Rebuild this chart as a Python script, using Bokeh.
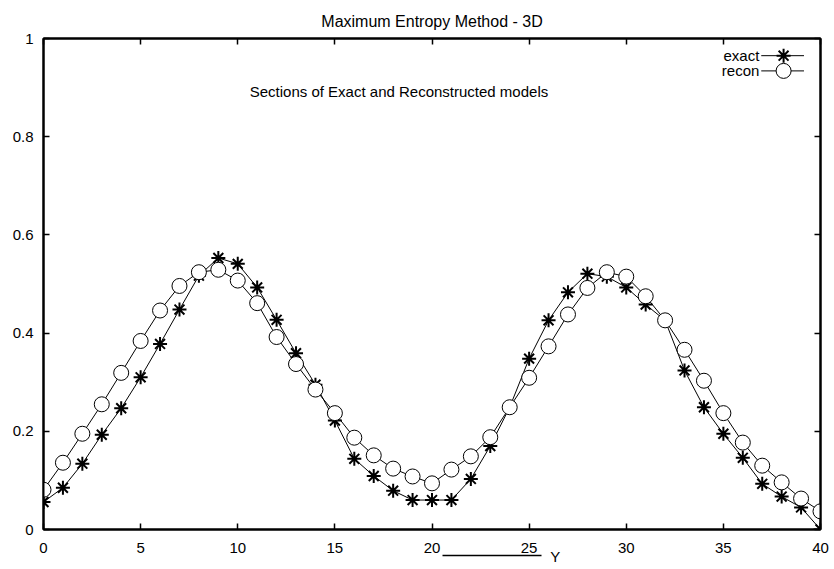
from bokeh.plotting import figure
from bokeh.models import (Range1d, FixedTicker, LinearAxis, CustomJSTickFormatter,
                          Label, Arrow, NormalHead, ColumnDataSource)
from bokeh.embed import file_html
from bokeh.resources import INLINE

# ---- data ----
y_pos = list(range(0, 41))
exact = [0.056, 0.085, 0.134, 0.193, 0.247, 0.310, 0.378, 0.448, 0.517, 0.553,
         0.541, 0.493, 0.427, 0.359, 0.295, 0.222, 0.144, 0.109, 0.079, 0.060,
         0.060, 0.060, 0.103, 0.170, 0.249, 0.348, 0.426, 0.483, 0.521, 0.515,
         0.493, 0.458, 0.426, 0.324, 0.249, 0.195, 0.146, 0.093, 0.067, 0.045,
         0.000]
recon = [0.081, 0.136, 0.195, 0.255, 0.319, 0.384, 0.446, 0.496, 0.524, 0.529,
         0.507, 0.461, 0.392, 0.337, 0.285, 0.237, 0.187, 0.151, 0.124, 0.108,
         0.094, 0.122, 0.149, 0.188, 0.249, 0.309, 0.373, 0.438, 0.492, 0.524,
         0.515, 0.475, 0.426, 0.366, 0.303, 0.237, 0.177, 0.130, 0.096, 0.063,
         0.037]
x_ticks = [0, 5, 10, 15, 20, 25, 30, 35, 40]
y_ticks = [0, 0.2, 0.4, 0.6, 0.8, 1]
title_text = "Maximum Entropy Method - 3D"
subtitle_text = "Sections of Exact and Reconstructed models"
series_names = ["exact", "recon"]
x_label = "Y"

FONT = "Liberation Sans"
FS = "15px"

p = figure(width=834, height=569, output_backend="svg", toolbar_location=None,
           x_range=Range1d(x_ticks[0], x_ticks[-1]),
           y_range=Range1d(y_ticks[0], y_ticks[-1]),
           min_border_left=43, min_border_right=14, min_border_top=38,
           min_border_bottom=40, x_axis_location=None, y_axis_location=None)
p.background_fill_color = "white"
p.border_fill_color = "white"
p.outline_line_color = "black"
p.outline_line_width = 2
p.xgrid.visible = False
p.ygrid.visible = False

p.title.text = title_text
p.title.align = "center"
p.title.text_font = FONT
p.title.text_font_size = "16px"
p.title.text_font_style = "normal"
p.title.text_color = "black"
p.title.standoff = 18

fmt_y = CustomJSTickFormatter(code="return String(Math.round(tick*10)/10);")


def make_axis(ticks, fmt, show_labels, standoff):
    ax = LinearAxis(ticker=FixedTicker(ticks=ticks))
    if fmt is not None:
        ax.formatter = fmt
    ax.major_tick_in = 6
    ax.major_tick_out = 0
    ax.minor_tick_in = 0
    ax.minor_tick_out = 0
    ax.axis_line_color = "black"
    ax.axis_line_width = 2
    ax.major_tick_line_color = "black"
    ax.major_tick_line_width = 1.5
    ax.major_label_text_font = FONT
    if show_labels:
        ax.major_label_text_font_size = FS
        ax.major_label_text_color = "black"
    else:
        ax.major_label_text_font_size = "1px"
        ax.major_label_text_color = None
    ax.major_label_standoff = standoff
    return ax


p.add_layout(make_axis(x_ticks, None, True, 13), "below")
p.add_layout(make_axis(y_ticks, fmt_y, True, 10), "left")
p.add_layout(make_axis(x_ticks, None, False, 0), "above")
p.add_layout(make_axis(y_ticks, fmt_y, False, 0), "right")

# gnuplot-style x label: an arrow followed by "Y", drawn as a second bottom axis
# whose (dashed) axis line forms the arrow body and whose single tick label is "Y"
y_label_pos = 26.35
label_axis = LinearAxis(ticker=FixedTicker(ticks=[y_label_pos]),
                        major_label_overrides={y_label_pos: x_label},
                        bounds=(20.55, 26.6))
label_axis.major_tick_in = 0
label_axis.major_tick_out = 0
label_axis.minor_tick_in = 0
label_axis.minor_tick_out = 0
label_axis.axis_line_color = "black"
label_axis.axis_line_width = 1.5
label_axis.axis_line_dash = "99 1000"
label_axis.major_label_text_font = FONT
label_axis.major_label_text_font_size = FS
label_axis.major_label_text_color = "black"
label_axis.major_label_standoff = -8
p.add_layout(label_axis, "below")

src = ColumnDataSource(dict(x=y_pos, exact=exact, recon=recon))

p.line("x", "exact", source=src, line_color="black", line_width=1)
p.scatter("x", "exact", source=src, marker="asterisk", size=14,
          line_color="black", line_width=2)
p.line("x", "recon", source=src, line_color="black", line_width=1)
p.scatter("x", "recon", source=src, marker="circle", size=15,
          line_color="black", fill_color="white", line_width=1)

# inner label
p.add_layout(Label(x=18.3, y=0.893, text=subtitle_text, text_align="center",
                   text_baseline="middle", text_font=FONT, text_font_size=FS,
                   text_color="black"))

# gnuplot-style key (text, then sample)
key_y = [0.965, 0.934]
markers = ["asterisk", "circle"]
for name, ky, mk in zip(series_names, key_y, markers):
    p.add_layout(Label(x=36.85, y=ky, text=name, text_align="right",
                       text_baseline="middle", text_font=FONT, text_font_size=FS,
                       text_color="black"))
    p.line([36.95, 39.15], [ky, ky], line_color="black", line_width=1)
    if mk == "asterisk":
        p.scatter([38.1], [ky], marker="asterisk", size=14, line_color="black",
                  line_width=2)
    else:
        p.scatter([38.1], [ky], marker="circle", size=15, line_color="black",
                  fill_color="white", line_width=1)

# arrow head for the x label (its body is the dashed axis line above)
p.add_layout(Arrow(x_start=24.0, y_start=-0.049, x_end=25.6, y_end=-0.049,
                   line_color="black", line_width=1, line_alpha=0,
                   end=NormalHead(size=7, fill_color="black", line_color="black")))

open("out.html", "w").write(file_html(p, INLINE))
